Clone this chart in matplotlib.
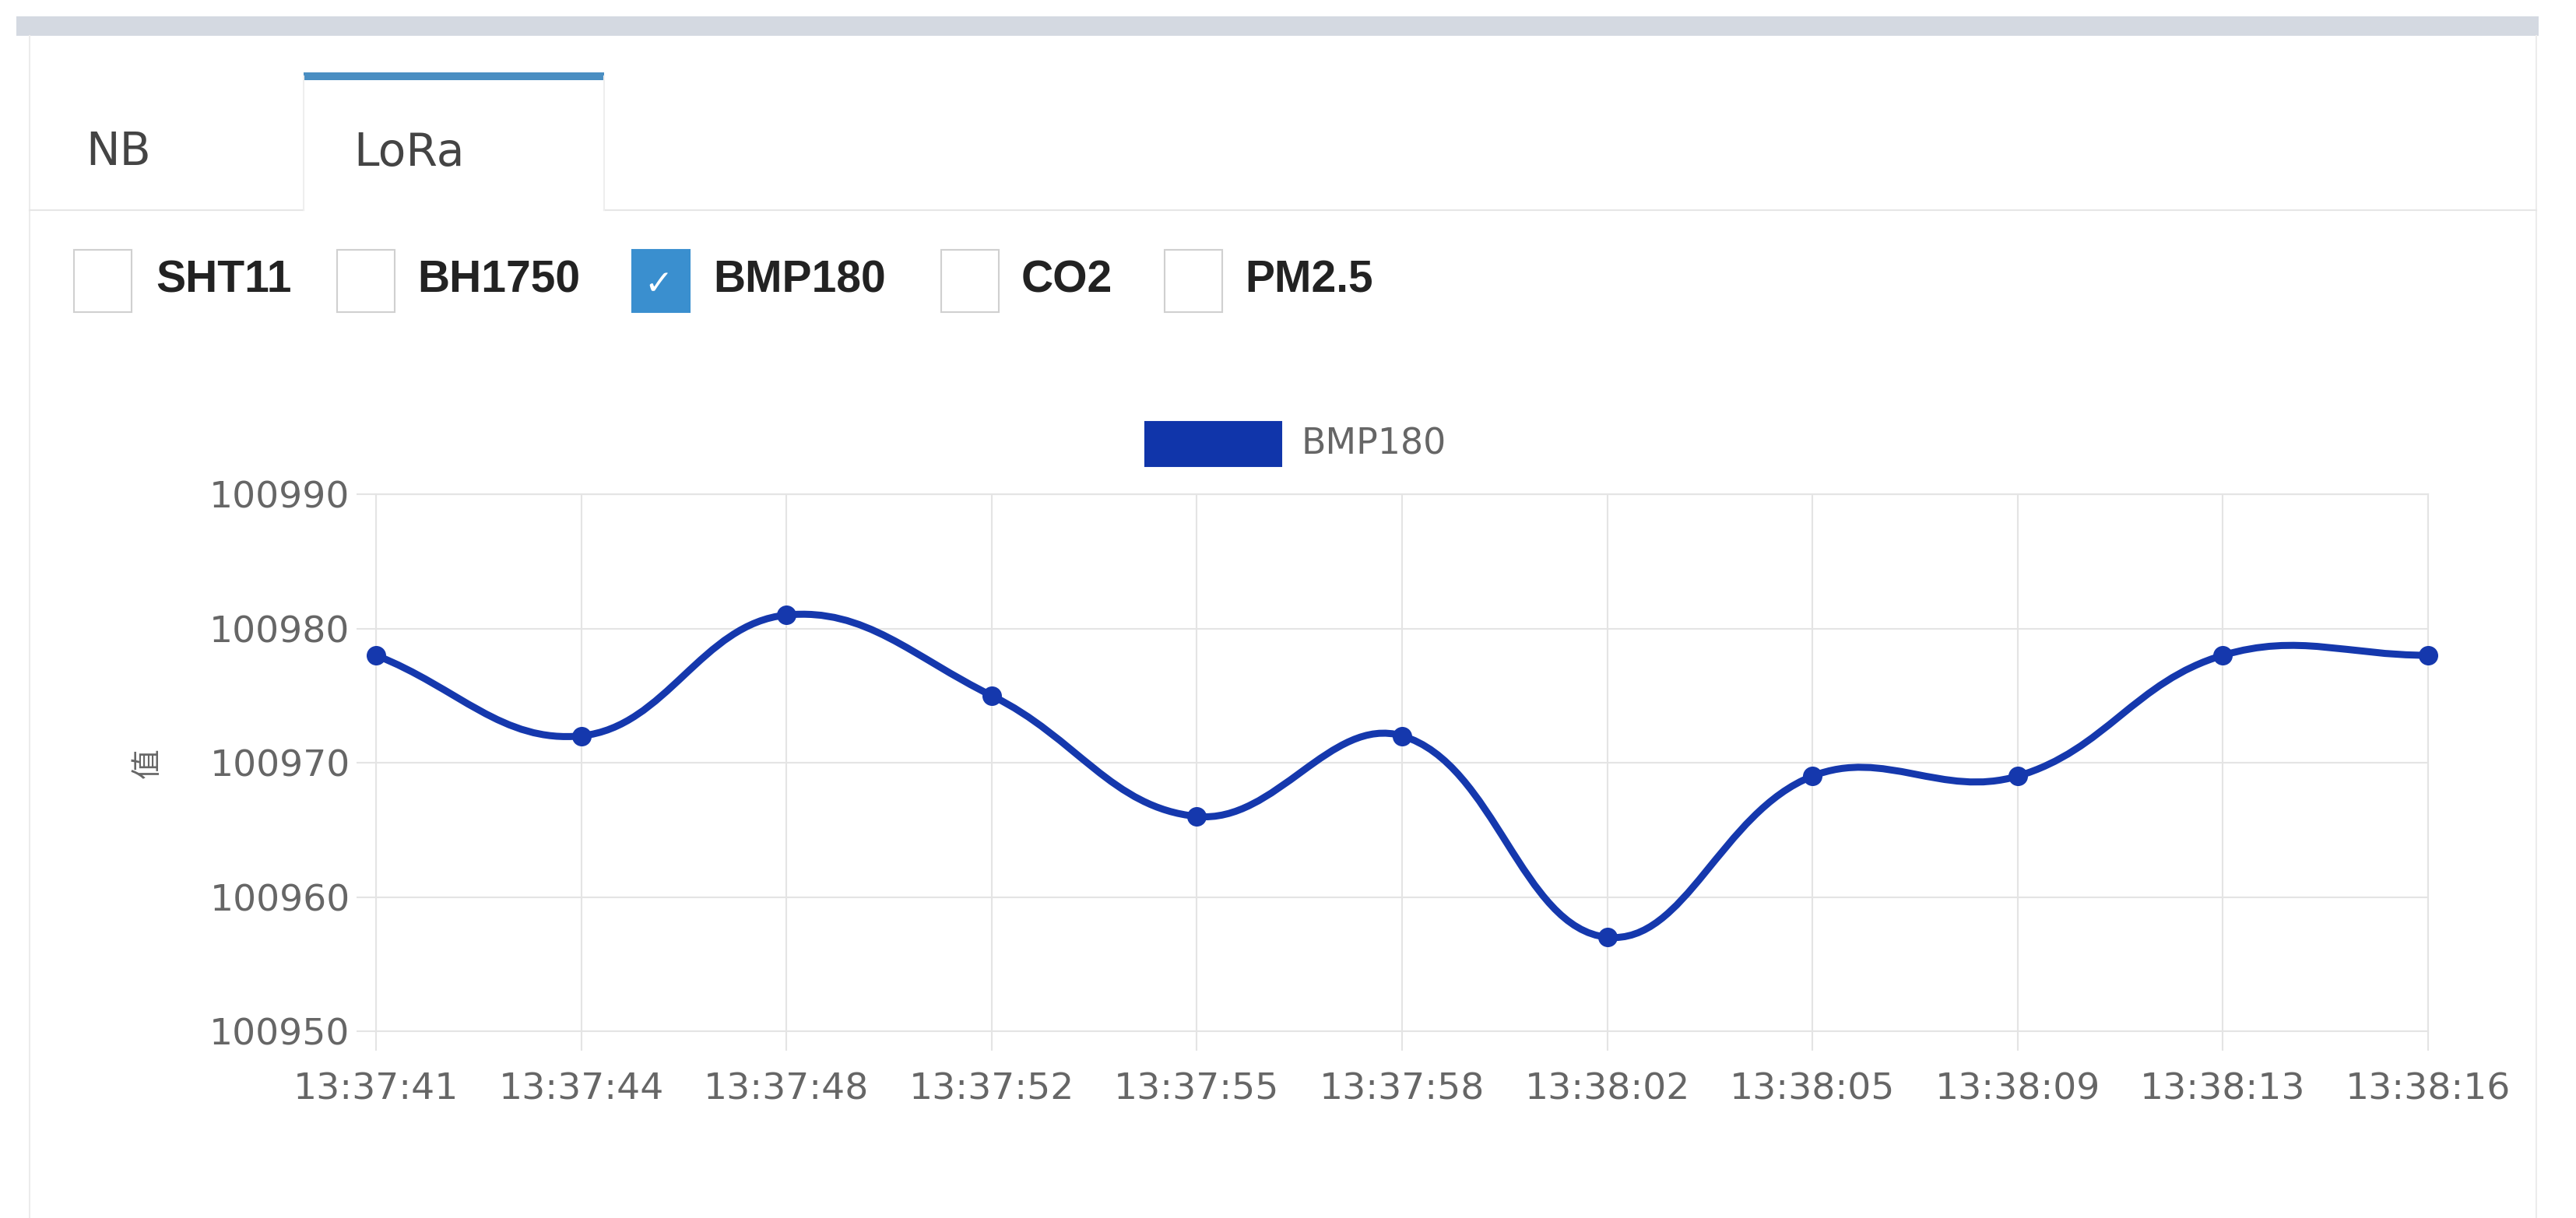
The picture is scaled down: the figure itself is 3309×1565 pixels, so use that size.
#!/usr/bin/env python3
"""BMP180 readings from the LoRa tab, drawn like the Chart.js panel."""
import numpy as np
import matplotlib
matplotlib.use("Agg")
import matplotlib.pyplot as plt
from matplotlib.path import Path
from matplotlib.patches import PathPatch, Rectangle
from matplotlib.ticker import FormatStrFormatter

# data
times = ["13:37:41", "13:37:44", "13:37:48", "13:37:52", "13:37:55", "13:37:58",
         "13:38:02", "13:38:05", "13:38:09", "13:38:13", "13:38:16"]
values = [100978, 100972, 100981, 100975, 100966, 100972,
          100957, 100969, 100969, 100978, 100978]
y_ticks = [100950, 100960, 100970, 100980, 100990]
series_name = "BMP180"
y_label = "值"
tabs = ["NB", "LoRa"]
sensors = ["SHT11", "BH1750", "BMP180", "CO2", "PM2.5"]
checked = "BMP180"

W, H = 3309, 1565
LINE = "#1538ad"
GRID = "#e4e4e4"
TICK = "#666666"

fig = plt.figure(figsize=(W / 100, H / 100), dpi=100)
fig.patch.set_facecolor("white")

# page layer in pixel coords (y down)
bg = fig.add_axes([0, 0, 1, 1])
bg.set_xlim(0, W)
bg.set_ylim(H, 0)
bg.axis("off")

# top grey strip + panel borders
bg.add_patch(Rectangle((21, 21), 3240, 25, fc="#d4d9e1", ec="none"))
bg.plot([38, 38], [46, H], color="#ececec", lw=1.5)
bg.plot([3258, 3258], [46, H], color="#ececec", lw=1.5)

# tabs
bg.plot([38, 390], [270, 270], color="#e6e6e6", lw=1.5)
bg.plot([776, 3258], [270, 270], color="#e6e6e6", lw=1.5)
bg.plot([390, 390], [98, 270], color="#eeeeee", lw=1.5)
bg.plot([776, 776], [98, 270], color="#eeeeee", lw=1.5)
bg.add_patch(Rectangle((390, 93), 386, 10, fc="#4a8ec2", ec="none"))
for name, tx in zip(tabs, [110, 454]):
    bg.text(tx, 196, name, fontsize=42, family="DejaVu Sans", color="#444444",
            va="center", ha="left")

# sensor checkboxes
box_x = [95, 433, 812, 1209, 1496]
label_x = [200, 536, 916, 1312, 1599]
for name, bx, lx in zip(sensors, box_x, label_x):
    on = name == checked
    bg.add_patch(Rectangle((bx, 321), 74, 80, fc="#3a8fcf" if on else "white",
                           ec="#3a8fcf" if on else "#d0d0d0", lw=1.5))
    if on:
        bg.text(bx + 34, 366, "✓", fontsize=32, color="white", ha="center",
                va="center", family="DejaVu Sans", weight="bold")
    bg.text(lx, 361, name, fontsize=41, family="Liberation Sans", weight="bold",
            color="#222222", va="center", ha="left")

# legend
bg.add_patch(Rectangle((1471, 542), 175, 57, fc="#1035aa", ec="#1035aa", lw=1.5))
bg.text(1671, 571, series_name, fontsize=33, color=TICK, va="center", ha="left")

# y axis title
bg.text(190, 981, y_label, rotation=90, fontsize=28, color=TICK, ha="center", va="center",
        family=["Noto Sans CJK SC", "DejaVu Sans"])

# chart
left, right, top, bottom = 483, 3119, 635, 1325
ax = fig.add_axes([left / W, 1 - bottom / H, (right - left) / W, (bottom - top) / H])
ax.set_facecolor("none")
xs = np.arange(len(values))
ax.set_xlim(0, len(times) - 1)
ax.set_ylim(y_ticks[0], y_ticks[-1])
ax.set_xticks(xs)
ax.set_xticklabels(times)
ax.set_yticks(y_ticks)
ax.yaxis.set_major_formatter(FormatStrFormatter("%d"))
ax.grid(True, color=GRID, lw=1.5)
for s in ax.spines.values():
    s.set_color(GRID)
    s.set_linewidth(1.5)
ax.tick_params(axis="both", length=18, width=1.5, color=GRID, labelcolor=TICK,
               labelsize=34, pad=6)
ax.tick_params(axis="x", pad=20)

# Chart.js style spline (tension 0.4), control points worked out in pixel space
pts = ax.transData.transform(np.column_stack([xs, values]))
n = len(pts)
tension = 0.4
prev_c, next_c = [], []
for i in range(n):
    p = pts[i]
    a = pts[i - 1] if i > 0 else p
    b = pts[i + 1] if i < n - 1 else p
    d01 = np.hypot(*(p - a))
    d12 = np.hypot(*(b - p))
    tot = d01 + d12
    s01 = d01 / tot if tot else 0
    s12 = d12 / tot if tot else 0
    prev_c.append(p - tension * s01 * (b - a))
    next_c.append(p + tension * s12 * (b - a))
verts = [pts[0]]
codes = [Path.MOVETO]
for i in range(n - 1):
    verts += [next_c[i], prev_c[i + 1], pts[i + 1]]
    codes += [Path.CURVE4] * 3
verts = ax.transData.inverted().transform(np.array(verts))
ax.add_patch(PathPatch(Path(verts, codes), fill=False, ec=LINE, lw=6.5,
                       capstyle="round", joinstyle="round", zorder=3))
ax.plot(xs, values, "o", ms=17, color=LINE, zorder=4, clip_on=False)

fig.savefig("out.png", dpi=100)
